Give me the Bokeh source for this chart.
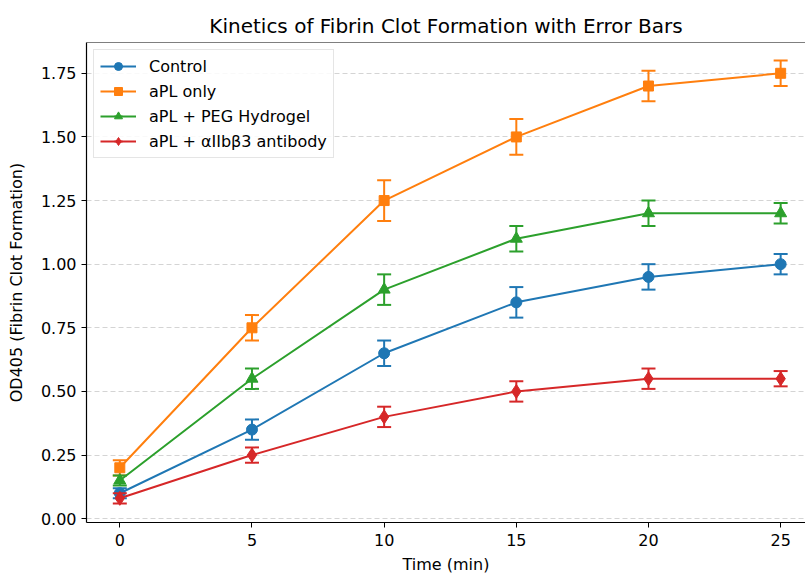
import math
from bokeh.plotting import figure
from bokeh.models import (ColumnDataSource, Range1d, FixedTicker, NumeralTickFormatter,
                          Legend, LegendItem, Span)
from bokeh.embed import file_html
from bokeh.resources import INLINE

time = [0, 5, 10, 15, 20, 25]

control = [0.10, 0.35, 0.65, 0.85, 0.95, 1.00]
control_err = [0.02, 0.04, 0.05, 0.06, 0.05, 0.04]

apl_only = [0.20, 0.75, 1.25, 1.50, 1.70, 1.75]
apl_only_err = [0.03, 0.05, 0.08, 0.07, 0.06, 0.05]

apl_peg = [0.15, 0.55, 0.90, 1.10, 1.20, 1.20]
apl_peg_err = [0.02, 0.04, 0.06, 0.05, 0.05, 0.04]

apl_ab = [0.08, 0.25, 0.40, 0.50, 0.55, 0.55]
apl_ab_err = [0.02, 0.03, 0.04, 0.04, 0.04, 0.03]

labels = ["Control", "aPL only", "aPL + PEG Hydrogel", "aPL + \u03b1IIb\u03b23 antibody"]
colors = ["#1f77b4", "#ff7f0e", "#2ca02c", "#d62728"]
markers = ["circle", "square", "triangle", "diamond"]
msizes = [11, 10, 12, 14]

y_ticks = [0.0, 0.25, 0.5, 0.75, 1.0, 1.25, 1.5, 1.75]
x_ticks = [0, 5, 10, 15, 20, 25]

FONT = "DejaVu Sans"

p = figure(width=805, height=576, output_backend="svg", toolbar_location=None,
           x_range=Range1d(-1.26, 25.94), y_range=Range1d(-0.015, 1.871),
           min_border_left=86, min_border_right=0, min_border_top=42, min_border_bottom=53,
           title="Kinetics of Fibrin Clot Formation with Error Bars")

p.title.align = "center"
p.title.text_font = FONT
p.title.text_font_size = "20px"
p.title.text_font_style = "normal"
p.title.text_color = "black"
p.title.standoff = 9

p.outline_line_color = None
p.background_fill_color = "white"
p.border_fill_color = "white"

for ax in (p.xaxis[0], p.yaxis[0]):
    ax.major_label_text_font = FONT
    ax.major_label_text_font_size = "16px"
    ax.major_label_text_color = "black"
    ax.axis_label_text_font = FONT
    ax.axis_label_text_font_size = "16px"
    ax.axis_label_text_font_style = "normal"
    ax.axis_label_text_color = "black"
    ax.axis_line_color = "black"
    ax.axis_line_width = 1.2
    ax.major_tick_line_color = "black"
    ax.major_tick_in = 0
    ax.major_tick_out = 5
    ax.minor_tick_line_color = None

p.xaxis.major_label_standoff = 6
p.xaxis.axis_label_standoff = 6
p.yaxis.major_label_standoff = 5
p.yaxis.axis_label_standoff = 12

p.xaxis.axis_label = "Time (min)"
p.yaxis.axis_label = "OD405 (Fibrin Clot Formation)"
p.xaxis.ticker = FixedTicker(ticks=x_ticks)
p.yaxis.ticker = FixedTicker(ticks=y_ticks)
p.yaxis.formatter = NumeralTickFormatter(format="0.00")

p.xgrid.grid_line_color = None
p.ygrid.grid_line_color = "#d4d4d4"
p.ygrid.grid_line_dash = "5 3"
p.ygrid.grid_line_width = 1

# top border of the axes box
p.add_layout(Span(location=1.871, dimension="width", line_color="black", line_width=1.2))

series = [(control, control_err), (apl_only, apl_only_err), (apl_peg, apl_peg_err), (apl_ab, apl_ab_err)]
items = []
for (vals, errs), lab, col, mk, ms in zip(series, labels, colors, markers, msizes):
    lower = [v - e for v, e in zip(vals, errs)]
    upper = [v + e for v, e in zip(vals, errs)]
    src = ColumnDataSource(dict(x=time, y=vals, lo=lower, hi=upper))
    ln = p.line("x", "y", source=src, line_color=col, line_width=2)
    p.segment("x", "lo", "x", "hi", source=src, line_color=col, line_width=2)
    p.scatter("x", "lo", source=src, marker="dash", size=14, line_color=col, line_width=2)
    p.scatter("x", "hi", source=src, marker="dash", size=14, line_color=col, line_width=2)
    sc = p.scatter("x", "y", source=src, marker=mk, size=ms, fill_color=col, line_color=col)
    # legend-only vertical error bar glyph, placed outside the visible range
    dummy = ColumnDataSource(dict(x=[-100], y=[-100]))
    vb = p.scatter("x", "y", source=dummy, marker="dash", size=18, angle=math.pi / 2,
                   line_color=col, line_width=2)
    items.append(LegendItem(label=lab, renderers=[ln, vb, sc]))

legend = Legend(items=items, location="top_left")
legend.label_text_font = FONT
legend.label_text_font_size = "16px"
legend.label_text_color = "black"
legend.glyph_width = 36
legend.glyph_height = 20
legend.label_height = 20
legend.spacing = 5
legend.padding = 6
legend.margin = 7
legend.label_standoff = 13
legend.border_line_color = "#cccccc"
legend.border_line_width = 1
legend.background_fill_color = "white"
legend.background_fill_alpha = 0.85
p.add_layout(legend)

open("out.html", "w").write(file_html(p, INLINE))
